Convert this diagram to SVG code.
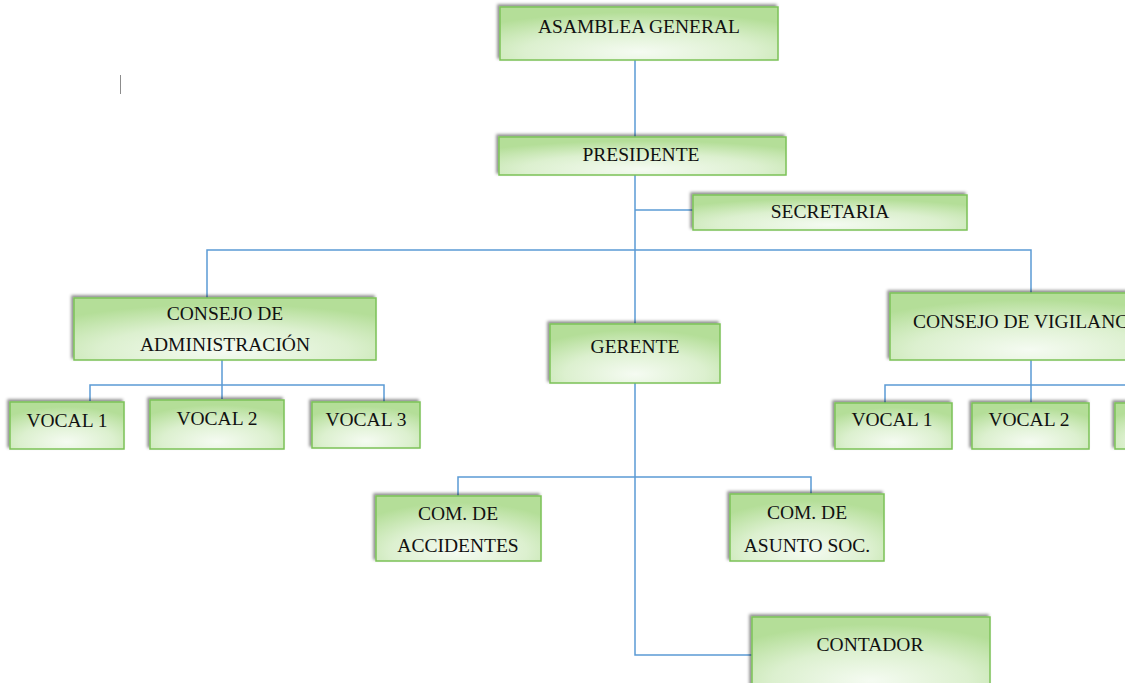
<svg xmlns="http://www.w3.org/2000/svg" width="1125" height="683" viewBox="0 0 1125 683">
<defs>
<radialGradient id="g" cx="0.5" cy="0.85" r="0.75" fx="0.5" fy="0.85">
<stop offset="0" stop-color="#f5fbf2"/>
<stop offset="0.55" stop-color="#dcf0cf"/>
<stop offset="1" stop-color="#b4de98"/>
</radialGradient>
<filter id="sh" x="-10%" y="-20%" width="120%" height="140%">
<feDropShadow dx="-2" dy="-2" stdDeviation="1.5" flood-color="#000" flood-opacity="0.45"/>
</filter>
</defs>
<style>
.box{fill:url(#g);stroke:#7cc257;stroke-width:1.5;filter:url(#sh)}
.t{font-family:'Liberation Serif','Times New Roman',serif;font-size:19.5px;fill:#111;text-anchor:middle}
.c{fill:none;stroke:#5b9bd5;stroke-width:1.5}
</style>
<rect width="1125" height="683" fill="#ffffff"/>
<line x1="120.5" y1="75" x2="120.5" y2="94" stroke="#8c8c8c" stroke-width="1"/>
<g id="connectors">
<path class="c" d="M635 60 V655 H752"/>
<path class="c" d="M635 210 H693"/>
<path class="c" d="M207 298 V250 H1031 V293"/>
<path class="c" d="M222 360 V385 M90 401 V385 H384 V402 M222 385 V399"/>
<path class="c" d="M1031 360 V385 M885 403 V385 H1125 M1031 385 V403"/>
<path class="c" d="M458 496 V477 H811 V494"/>
</g>
<g id="asamblea"><rect class="box" x="500" y="7" width="278" height="53"/><text class="t" x="639" y="33">ASAMBLEA GENERAL</text></g>
<g id="presidente"><rect class="box" x="499" y="137" width="287" height="38"/><text class="t" x="641" y="161">PRESIDENTE</text></g>
<g id="secretaria"><rect class="box" x="693" y="195" width="274" height="35"/><text class="t" x="830" y="218">SECRETARIA</text></g>
<g id="consejo-adm"><rect class="box" x="74" y="298" width="302" height="62"/><text class="t" x="225" y="320">CONSEJO DE</text><text class="t" x="225" y="351">ADMINISTRACIÓN</text></g>
<g id="gerente"><rect class="box" x="550" y="324" width="170" height="59"/><text class="t" x="635" y="353">GERENTE</text></g>
<g id="consejo-vig"><rect class="box" x="890" y="293" width="280" height="67"/><text class="t" x="913" y="328" style="text-anchor:start">CONSEJO DE VIGILANCIA</text></g>
<g id="adm-vocal1"><rect class="box" x="10" y="402" width="114" height="47"/><text class="t" x="67" y="427">VOCAL 1</text></g>
<g id="adm-vocal2"><rect class="box" x="150" y="400" width="134" height="49"/><text class="t" x="217" y="425">VOCAL 2</text></g>
<g id="adm-vocal3"><rect class="box" x="312" y="402" width="108" height="46"/><text class="t" x="366" y="426">VOCAL 3</text></g>
<g id="vig-vocal1"><rect class="box" x="835" y="403" width="117" height="46"/><text class="t" x="892" y="426">VOCAL 1</text></g>
<g id="vig-vocal2"><rect class="box" x="972" y="403" width="117" height="46"/><text class="t" x="1029" y="426">VOCAL 2</text></g>
<g id="vig-vocal3"><rect class="box" x="1115" y="403" width="117" height="46"/></g>
<g id="com-accidentes"><rect class="box" x="376" y="496" width="165" height="65"/><text class="t" x="458" y="520">COM. DE</text><text class="t" x="458" y="552">ACCIDENTES</text></g>
<g id="com-asunto"><rect class="box" x="730" y="494" width="154" height="67"/><text class="t" x="807" y="519">COM. DE</text><text class="t" x="807" y="552">ASUNTO SOC.</text></g>
<g id="contador"><rect class="box" x="752" y="617" width="238" height="75"/><text class="t" x="870" y="651">CONTADOR</text></g>
</svg>
